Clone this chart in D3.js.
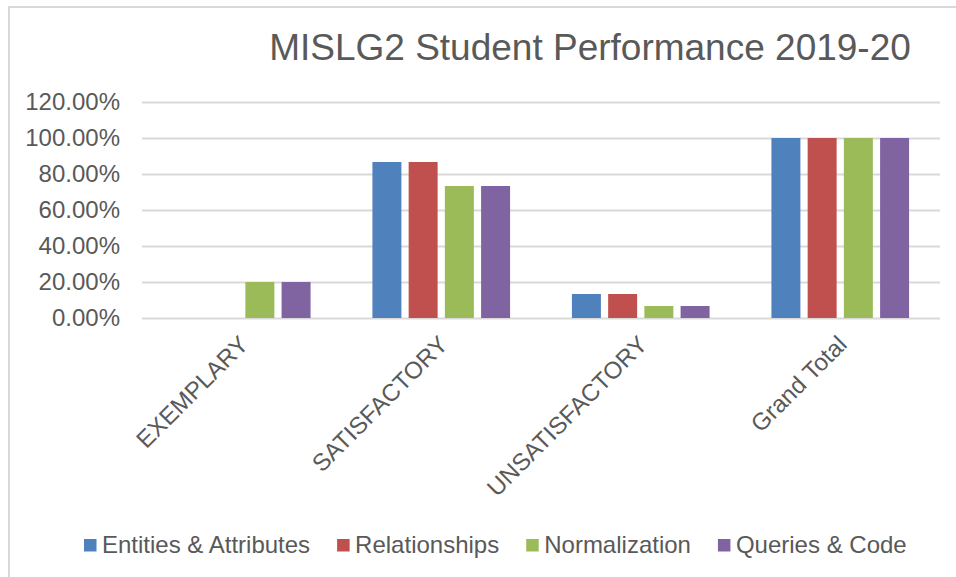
<!DOCTYPE html>
<html>
<head>
<meta charset="utf-8">
<title>MISLG2 Student Performance 2019-20</title>
<style>
body { margin: 0; background: #fff; }
text { font-family: "Liberation Sans", Arial, sans-serif; fill: #595959; }
</style>
</head>
<body>
<script src="https://cdn.jsdelivr.net/npm/d3@7"></script>
<script>
var categories = ["EXEMPLARY", "SATISFACTORY", "UNSATISFACTORY", "Grand Total"];
var series = ["Entities & Attributes", "Relationships", "Normalization", "Queries & Code"];
var colors = ["#4F81BD", "#C0504D", "#9BBB59", "#8064A2"];
// one array per series, percent of students, in category order
var entities = [0, 86.67, 13.33, 100];
var relationships = [0, 86.67, 13.33, 100];
var normalization = [20, 73.33, 6.67, 100];
var queries = [20, 73.33, 6.67, 100];
var yTicks = [0, 20, 40, 60, 80, 100, 120];

var values = [entities, relationships, normalization, queries];

var W = 956, H = 577;
var plotLeft = 142, plotRight = 940, plotTop = 102, plotBottom = 318;

var svg = d3.select("body").append("svg")
    .attr("width", W)
    .attr("height", H);

// chart border
svg.append("rect")
    .attr("x", 9).attr("y", 7)
    .attr("width", W + 20).attr("height", H + 20)
    .style("fill", "none")
    .style("stroke", "#d9d9d9")
    .style("stroke-width", 2);

var y = d3.scaleLinear().domain([0, 120]).range([plotBottom, plotTop]);

var x0 = d3.scaleBand().domain(categories).range([plotLeft, plotRight])
    .paddingInner(0.31).paddingOuter(0.155);

var x1 = d3.scaleBand().domain(series).range([0, x0.bandwidth()])
    .paddingInner(0.2);

var yAxis = d3.axisLeft(y).tickValues(yTicks)
    .tickSize(-(plotRight - plotLeft))
    .tickPadding(22)
    .tickFormat(function(d) { return d.toFixed(2) + "%"; });

var gy = svg.append("g")
    .attr("class", "y axis")
    .attr("transform", "translate(" + plotLeft + ",0)")
    .call(yAxis);
gy.select(".domain").remove();
gy.selectAll("line").style("stroke", "#d9d9d9").style("stroke-width", 2);
gy.selectAll("text")
    .style("font-family", "'Liberation Sans', Arial, sans-serif")
    .style("font-size", "24px")
    .style("fill", "#595959");

svg.append("text")
    .attr("x", 590)
    .attr("y", 60)
    .style("text-anchor", "middle")
    .style("font-size", "37px")
    .text("MISLG2 Student Performance 2019-20");

var groups = svg.selectAll(".group")
    .data(categories)
  .enter().append("g")
    .attr("class", "group")
    .attr("transform", function(d) { return "translate(" + x0(d) + ",0)"; });

groups.selectAll("rect")
    .data(function(c, ci) { return series.map(function(s, si) { return {s: s, i: si, v: values[si][ci]}; }); })
  .enter().append("rect")
    .attr("x", function(d) { return x1(d.s); })
    .attr("width", x1.bandwidth())
    .attr("y", function(d) { return y(d.v); })
    .attr("height", function(d) { return y(0) - y(d.v); })
    .style("fill", function(d) { return colors[d.i]; });

var xAxis = d3.axisBottom(x0).tickSize(0).tickPadding(0);
var gx = svg.append("g")
    .attr("class", "x axis")
    .attr("transform", "translate(0," + plotBottom + ")")
    .call(xAxis);
gx.select(".domain").remove();
gx.selectAll("text")
    .style("font-family", "'Liberation Sans', Arial, sans-serif")
    .style("font-size", "24px")
    .style("fill", "#595959")
    .style("text-anchor", "end")
    .attr("dy", 0)
    .attr("y", 0)
    .attr("transform", "translate(8,28) rotate(-45)");

// legend, laid out left to right from measured text widths
var legend = svg.append("g").attr("class", "legend");
var lx = 84;
series.forEach(function(s, i) {
  legend.append("rect")
      .attr("x", lx).attr("y", 539)
      .attr("width", 12.5).attr("height", 12.5)
      .style("fill", colors[i]);
  var t = legend.append("text")
      .attr("x", lx + 18).attr("y", 553)
      .style("font-size", "24px")
      .text(s);
  lx += 18 + t.node().getComputedTextLength() + 27;
});
</script>
</body>
</html>
